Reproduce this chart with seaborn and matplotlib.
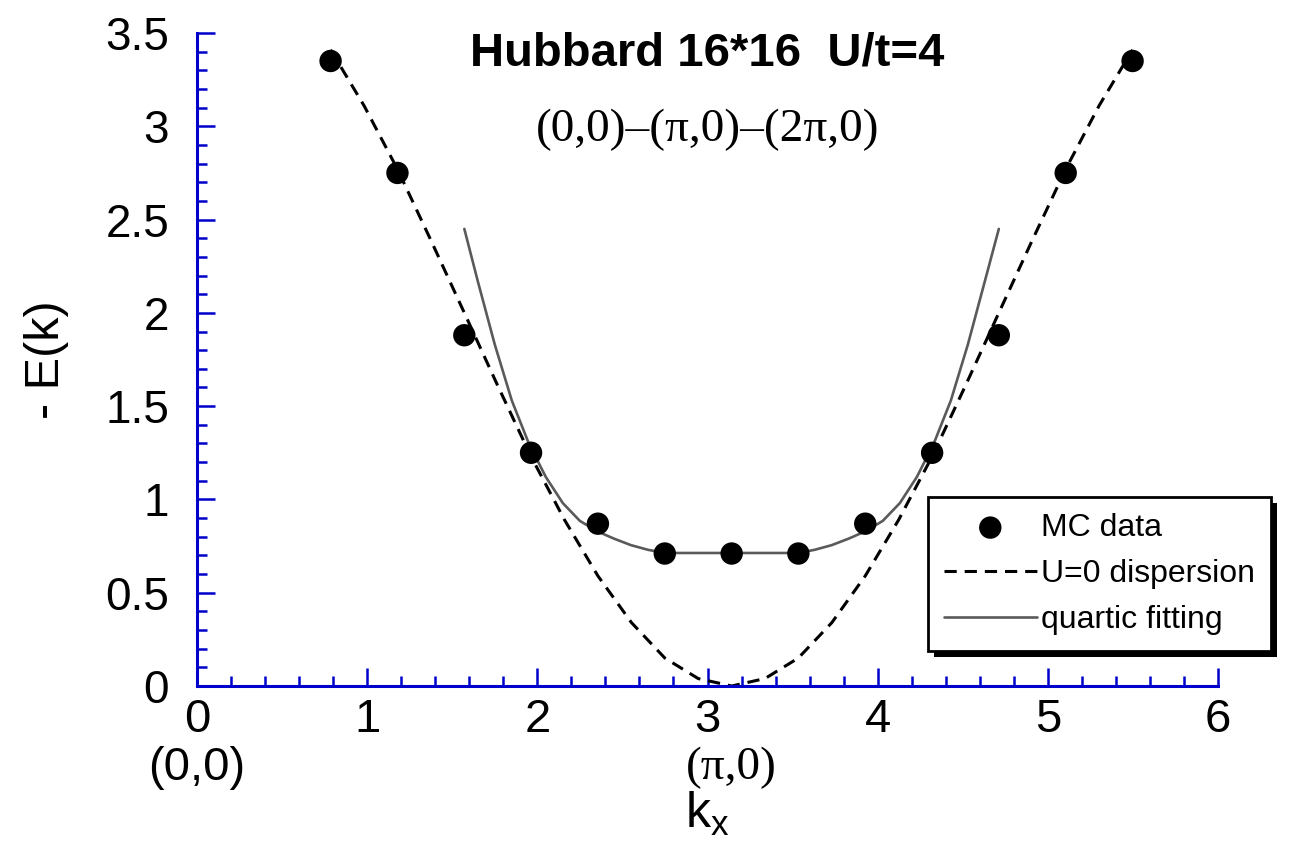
import matplotlib
matplotlib.use("Agg")
import matplotlib.pyplot as plt
import numpy as np
import pandas as pd
import seaborn as sns
from matplotlib.patches import Rectangle
from matplotlib.ticker import MultipleLocator

# MC data points, k on the 16x16 grid along (0,0)-(pi,0)-(2pi,0)
kx_mc = [0.785, 1.178, 1.571, 1.963, 2.356, 2.749, 3.142, 3.534, 3.927, 4.320, 4.712, 5.105, 5.498]
ek_mc = [3.35, 2.75, 1.88, 1.25, 0.87, 0.71, 0.71, 0.71, 0.87, 1.25, 1.88, 2.75, 3.35]
err_mc = [0.04, 0.01, 0.01, 0.01, 0.01, 0.01, 0.01, 0.01, 0.01, 0.01, 0.01, 0.01, 0.04]

# U=0 dispersion (dashed)
kx_u0 = [0.785, 0.982, 1.178, 1.374, 1.571, 1.767, 1.963, 2.160, 2.356, 2.553, 2.749, 2.945, 3.142,
         3.338, 3.534, 3.731, 3.927, 4.123, 4.320, 4.516, 4.712, 4.909, 5.105, 5.301, 5.498]
ek_u0 = [3.41, 3.11, 2.77, 2.39, 2.00, 1.61, 1.23, 0.89, 0.59, 0.34, 0.15, 0.04, 0.00,
         0.04, 0.15, 0.34, 0.59, 0.89, 1.23, 1.61, 2.00, 2.39, 2.77, 3.11, 3.41]

# quartic fitting (solid grey)
kx_fit = [1.571, 1.65, 1.75, 1.85, 1.95, 2.05, 2.15, 2.25, 2.35, 2.45, 2.55, 2.65, 2.75, 3.142,
          3.534, 3.63, 3.73, 3.83, 3.93, 4.03, 4.13, 4.23, 4.33, 4.43, 4.53, 4.63, 4.712]
ek_fit = [2.45, 2.17, 1.83, 1.53, 1.30, 1.12, 0.98, 0.885, 0.83, 0.79, 0.755, 0.73, 0.713, 0.713,
          0.713, 0.73, 0.755, 0.79, 0.83, 0.885, 0.98, 1.12, 1.30, 1.53, 1.83, 2.17, 2.45]

sns.set_theme(style="white")
plt.rcParams['font.family'] = ['Liberation Sans', 'DejaVu Sans']
plt.rcParams['text.color'] = 'black'
plt.rcParams['axes.labelcolor'] = 'black'
blue = '#0000cc'

fig = plt.figure(figsize=(13.02, 8.65), dpi=100)
ax = fig.add_axes([197/1302, 1-686/865, (1218-197)/1302, (686-33)/865])
ax.set_facecolor('none')

df_u0 = pd.DataFrame({'kx': kx_u0, 'ek': ek_u0})
df_fit = pd.DataFrame({'kx': kx_fit, 'ek': ek_fit})
df_mc = pd.DataFrame({'kx': kx_mc, 'ek': ek_mc})

sns.lineplot(df_u0, x='kx', y='ek', ax=ax, color='black', linewidth=2.2,
             dashes=False, sort=False, label='U=0 dispersion', zorder=2)
ax.lines[-1].set_dashes((4, 2.6))
sns.lineplot(df_fit, x='kx', y='ek', ax=ax, color='#5a5a5a', linewidth=1.9,
             sort=False, label='quartic fitting', zorder=3)
ax.errorbar(kx_mc, ek_mc, yerr=err_mc, fmt='none', ecolor='black', elinewidth=1.5, zorder=4)
sns.scatterplot(df_mc, x='kx', y='ek', ax=ax, color='black', s=260, edgecolor='none',
                label='MC data', zorder=5)

ax.set_xlim(0, 6)
ax.set_ylim(0, 3.5)
ax.xaxis.set_major_locator(MultipleLocator(1))
ax.xaxis.set_minor_locator(MultipleLocator(0.2))
ax.yaxis.set_major_locator(MultipleLocator(0.5))
ax.yaxis.set_minor_locator(MultipleLocator(0.1))
ax.set_xticks(range(0, 7), [str(i) for i in range(0, 7)])
ax.set_yticks([0, 0.5, 1, 1.5, 2, 2.5, 3, 3.5], ['0', '0.5', '1', '1.5', '2', '2.5', '3', '3.5'])

for side in ['top', 'right']:
    ax.spines[side].set_visible(False)
for side in ['left', 'bottom']:
    ax.spines[side].set_color(blue)
    ax.spines[side].set_linewidth(2.2)
ax.tick_params(which='both', direction='in', color=blue, width=1.8, labelcolor='black',
               bottom=True, left=True, top=False, right=False)
ax.tick_params(which='major', length=13)
ax.tick_params(which='minor', length=7)
ax.tick_params(axis='x', which='major', labelsize=34, pad=9)
ax.tick_params(axis='y', which='major', labelsize=33, pad=20)

ax.set_xlabel(r'$\mathregular{k_x}$', fontsize=36, labelpad=34)
ax.set_ylabel('- E(k)', fontsize=35, labelpad=26)

ax.text(0, -0.44, '(0,0)', fontsize=34, ha='center', va='center', transform=ax.transData)
ax.text(np.pi, -0.44, '(π,0)', fontsize=34, ha='center', va='center',
        family=['Liberation Serif', 'DejaVu Serif'], transform=ax.transData)

ax.text(3.0, 3.39, 'Hubbard 16*16  U/t=4', fontsize=34, fontweight='bold', ha='center', va='center')
ax.text(3.0, 2.98, '(0,0)–(π,0)–(2π,0)', fontsize=34, ha='center', va='center',
        family=['Liberation Serif', 'DejaVu Serif'])

handles, labels = ax.get_legend_handles_labels()
order = [labels.index(l) for l in ['MC data', 'U=0 dispersion', 'quartic fitting']]
leg = ax.legend([handles[i] for i in order], [labels[i] for i in order],
                loc='upper left', bbox_to_anchor=(928/1302, 1-497/865),
                bbox_transform=fig.transFigure, borderaxespad=0, frameon=True,
                fancybox=False, framealpha=1, edgecolor='black', fontsize=23,
                handlelength=2.9, handletextpad=0.15, labelspacing=0.5, borderpad=0.5)
leg.get_frame().set_linewidth(2)
leg.set_zorder(10)

fig.canvas.draw()
bb = leg.get_window_extent()
W, H = fig.bbox.width, fig.bbox.height
ax.add_patch(Rectangle(((bb.x0 + 6)/W, (bb.y0 - 6)/H), bb.width/W, bb.height/H,
                       transform=fig.transFigure, facecolor='black', edgecolor='none',
                       clip_on=False, zorder=9))

fig.savefig('out.png', dpi=100)
